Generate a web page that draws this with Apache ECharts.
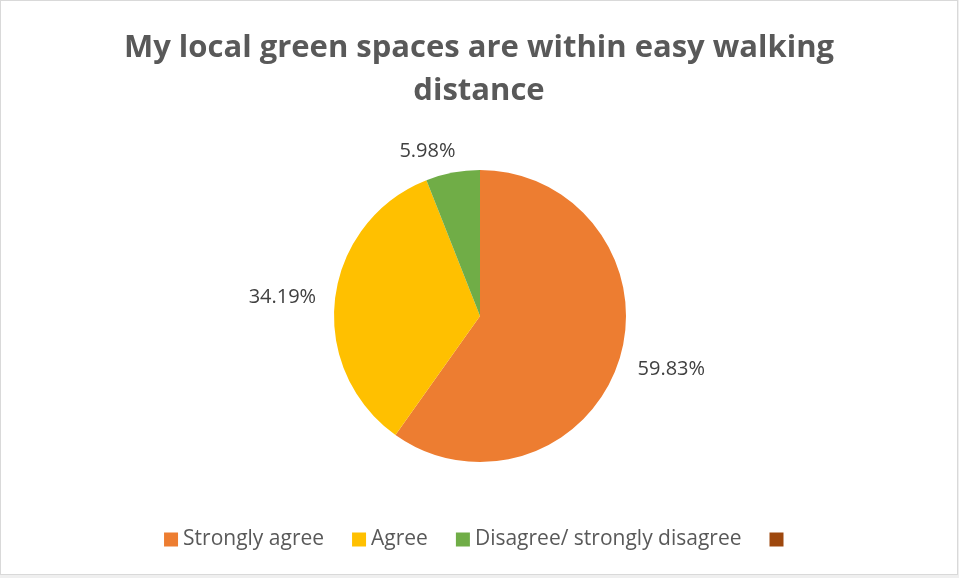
<!DOCTYPE html>
<html>
<head>
<meta charset="utf-8">
<script src="https://cdn.jsdelivr.net/npm/echarts@6/dist/echarts.min.js"></script>
<style>
  html, body { margin: 0; padding: 0; background: #efefef; }
  #chart { position: absolute; left: 0; top: 0; width: 956px; height: 573px; background: #ffffff; border: 1px solid #d9d9d9; }
</style>
</head>
<body>
<div id="chart"></div>
<script>
// Survey responses: "My local green spaces are within easy walking distance"
const categories = ['Strongly agree', 'Agree', 'Disagree/ strongly disagree', ' '];
const shares = [59.83, 34.19, 5.98, 0];
const colors = ['#ED7D31', '#FFC000', '#70AD47', '#9E480E'];
// small nudges for the outside value labels
const labelOffsets = [[0, 5], [0, 0], [12, -9], [0, 0]];

const FONT = '"Open Sans", "Noto Sans", sans-serif';

const chart = echarts.init(document.getElementById('chart'));
chart.setOption({
  animation: false,
  color: colors,
  title: {
    text: 'My local green spaces are within easy walking\ndistance',
    left: 'center',
    top: 21,
    textStyle: {
      fontFamily: FONT,
      fontSize: 31,
      fontWeight: 'bold',
      color: '#595959',
      lineHeight: 43
    }
  },
  legend: {
    top: 523,
    left: 'center',
    itemWidth: 14,
    itemHeight: 14,
    itemGap: 28,
    icon: 'rect',
    data: categories,
    textStyle: { fontFamily: FONT, fontSize: 21, color: '#595959' }
  },
  series: [{
    type: 'pie',
    center: [479, 315],
    radius: 146,
    startAngle: 90,
    clockwise: true,
    avoidLabelOverlap: false,
    data: categories.map((name, i) => ({
      name,
      value: shares[i],
      label: { show: shares[i] > 0, offset: labelOffsets[i] }
    })),
    label: {
      position: 'outside',
      formatter: p => p.value.toFixed(2) + '%',
      fontFamily: FONT,
      fontSize: 20,
      color: '#404040'
    },
    labelLine: { show: false, length: 12, length2: 2 },
    itemStyle: { borderWidth: 0 }
  }]
});
</script>
</body>
</html>
